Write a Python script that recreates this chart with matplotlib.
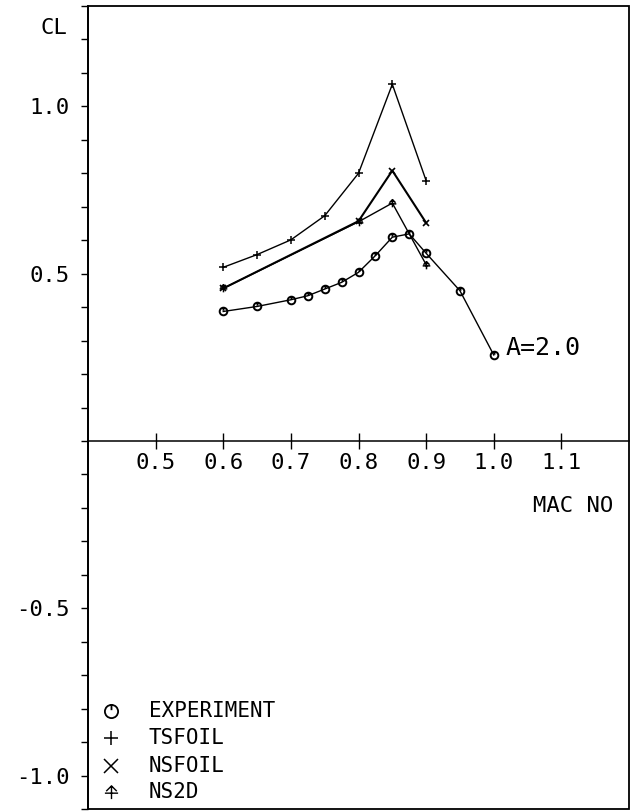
import numpy as np
import matplotlib
matplotlib.use("Agg")
import matplotlib.pyplot as plt
from matplotlib.path import Path
from matplotlib.patches import Rectangle

# -------------------------
# data
# -------------------------
exp_mach = [0.6, 0.65, 0.7, 0.725, 0.75, 0.775, 0.8, 0.825, 0.85, 0.875, 0.9, 0.95, 1.0]
exp_cl   = [0.387, 0.402, 0.422, 0.434, 0.454, 0.474, 0.504, 0.554, 0.609, 0.619, 0.561, 0.449, 0.257]

ts_mach = [0.6, 0.65, 0.7, 0.75, 0.8, 0.85, 0.9]
ts_cl   = [0.519, 0.557, 0.601, 0.673, 0.800, 1.066, 0.778]

nsf_mach = [0.6, 0.8, 0.85, 0.9]
nsf_cl   = [0.456, 0.657, 0.808, 0.652]

ns2d_mach = [0.6, 0.8, 0.85, 0.9]
ns2d_cl   = [0.456, 0.655, 0.711, 0.527]

xticks = [0.5, 0.6, 0.7, 0.8, 0.9, 1.0, 1.1]
yticks = [-1.0, -0.5, 0.5, 1.0]
legend_names = ["EXPERIMENT", "TSFOIL", "NSFOIL", "NS2D"]

FONT = "DejaVu Sans Mono"
FS = 16

# plotter-style symbols
exp_marker = Path.make_compound_path(Path.unit_circle(),
                                     Path([[0, 1.0], [0, 0.2]]))
ns2d_marker = Path([[-1, -0.1], [1, -0.1], [0, -1], [0, 1],
                    [-0.8, 0.2], [0, 1], [0.8, 0.2]],
                   [Path.MOVETO, Path.LINETO, Path.MOVETO, Path.LINETO,
                    Path.MOVETO, Path.LINETO, Path.LINETO])

fig = plt.figure(figsize=(6.34, 8.11), dpi=100)
ax = fig.add_axes([88/634, 2/811, (629-88)/634, (809-6)/811])
ax.set_xlim(0.4, 1.2)
ax.set_ylim(-1.1, 1.3)

# frame + axis through zero
ax.add_patch(Rectangle((0, 0), 1, 1, transform=ax.transAxes, fill=False,
                       lw=1.3, color="black", clip_on=False, zorder=5))
for s in ["top", "right"]:
    ax.spines[s].set_visible(False)
ax.spines["bottom"].set_position(("data", 0))
ax.spines["bottom"].set_linewidth(1.1)
ax.spines["left"].set_linewidth(1.3)

ax.set_xticks(xticks)
ax.set_xticklabels([f"{v:.1f}" for v in xticks], fontfamily=FONT, fontsize=FS)
ax.tick_params(axis="x", direction="inout", length=11, width=1.0, pad=3)

ax.set_yticks(yticks)
ax.set_yticklabels([f"{v:.1f}" for v in yticks], fontfamily=FONT, fontsize=FS)
ax.set_yticks(np.round(np.arange(-1.1, 1.31, 0.1), 2), minor=True)
ax.tick_params(axis="y", which="both", direction="out", length=5, width=1.0, pad=8)

lw = 1.0
ax.plot(exp_mach, exp_cl, color="black", lw=lw, marker=exp_marker,
        ms=5.5, mfc="none", mec="black", mew=1.4)
ax.plot(ts_mach, ts_cl, color="black", lw=lw, marker="+", ms=5.5, mew=1.1)
ax.plot(nsf_mach, nsf_cl, color="black", lw=lw + 0.5, marker="x", ms=5, mew=1.2)
ax.plot(ns2d_mach, ns2d_cl, color="black", lw=lw, marker=ns2d_marker,
        ms=5.5, mfc="none", mew=1.1)

ax.text(1.018, 0.278, "A=2.0", fontfamily=FONT, fontsize=FS + 2,
        ha="left", va="center")
ax.text(0.370, 1.234, "CL", fontfamily=FONT, fontsize=FS,
        ha="right", va="center", clip_on=False)
ax.text(1.177, -0.195, "MAC NO", fontfamily=FONT, fontsize=FS,
        ha="right", va="center")

# hand-drawn key at lower left
key_markers = [(exp_marker, 1.3), ("+", 1.1), ("x", 1.1), (ns2d_marker, 1.0)]
key_y = [-0.808, -0.889, -0.970, -1.048]
for (mk, mw), yy, name in zip(key_markers, key_y, legend_names):
    ax.plot([0.434], [yy], marker=mk, ms=9.5, mfc="none", mec="black",
            mew=mw, ls="none")
    ax.text(0.49, yy, name, fontfamily=FONT, fontsize=FS - 1,
            ha="left", va="center")

fig.savefig("out.png", dpi=100)
